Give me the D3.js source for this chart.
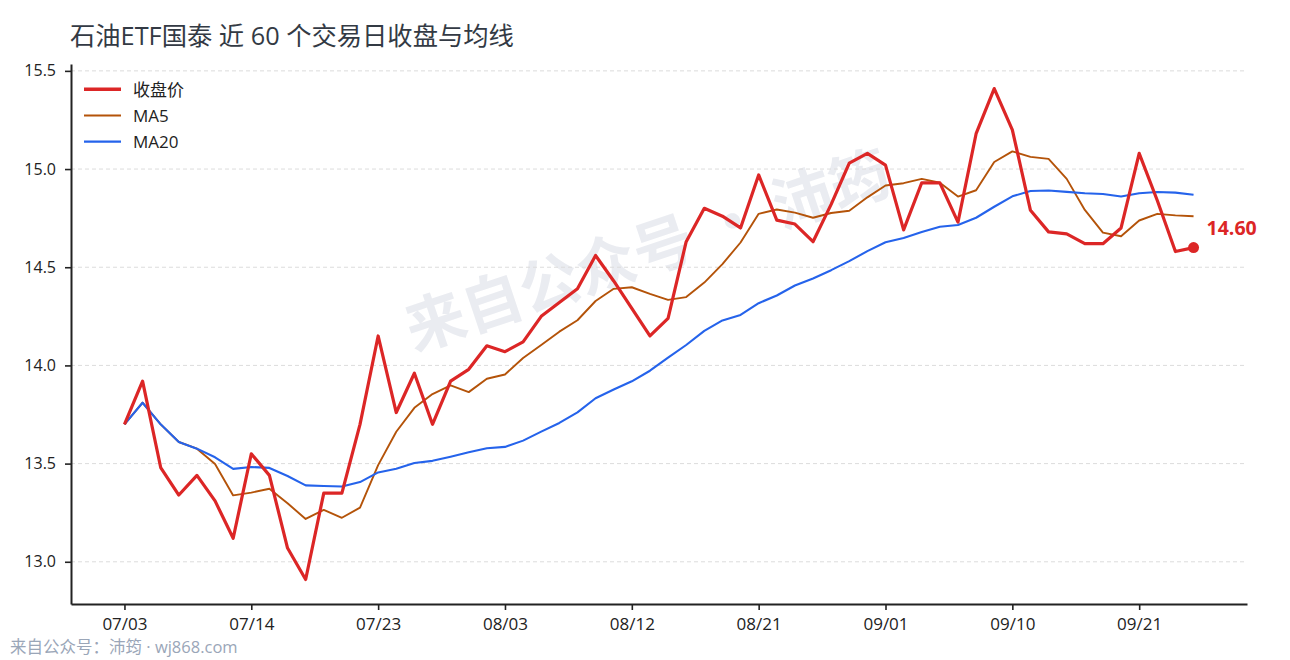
<!DOCTYPE html>
<html><head><meta charset="utf-8">
<script src="https://cdn.jsdelivr.net/npm/d3@7"></script>
<style>
html,body{margin:0;padding:0;background:#fff;}
svg{display:block;font-family:"Open Sans","Noto Sans CJK SC",sans-serif;}
</style></head><body>
<svg id="chart" width="1290" height="660"></svg>
<script>
const dates = ["07/03","07/04","07/07","07/08","07/09","07/10","07/11","07/14","07/15","07/16",
  "07/17","07/18","07/21","07/22","07/23","07/24","07/25","07/28","07/29","07/30",
  "07/31","08/03","08/04","08/05","08/06","08/07","08/08","08/11","08/12","08/13",
  "08/14","08/15","08/18","08/19","08/20","08/21","08/22","08/25","08/26","08/27",
  "08/28","08/29","09/01","09/02","09/03","09/04","09/05","09/08","09/09","09/10",
  "09/11","09/12","09/15","09/16","09/17","09/18","09/21","09/22","09/23","09/24"];
const close = [13.70,13.92,13.48,13.34,13.44,13.31,13.12,13.55,13.44,13.07,
  12.91,13.35,13.35,13.70,14.15,13.76,13.96,13.70,13.92,13.98,
  14.10,14.07,14.12,14.25,14.32,14.39,14.56,14.43,14.29,14.15,
  14.24,14.63,14.80,14.76,14.70,14.97,14.74,14.72,14.63,14.82,
  15.03,15.08,15.02,14.69,14.93,14.93,14.73,15.18,15.41,15.20,
  14.79,14.68,14.67,14.62,14.62,14.70,15.08,14.84,14.58,14.60];
const ma5 = [13.70,13.81,13.70,13.61,13.576,13.498,13.338,13.352,13.372,13.298,
  13.218,13.264,13.224,13.276,13.492,13.662,13.784,13.854,13.898,13.864,
  13.932,13.954,14.038,14.104,14.172,14.23,14.328,14.39,14.398,14.364,
  14.334,14.348,14.422,14.516,14.626,14.772,14.794,14.778,14.752,14.776,
  14.788,14.856,14.916,14.928,14.95,14.93,14.86,14.892,15.036,15.09,
  15.062,15.052,14.95,14.792,14.676,14.658,14.738,14.772,14.764,14.76];
const ma20 = [13.70,13.81,13.70,13.61,13.576,13.532,13.473,13.483,13.478,13.437,
  13.389,13.386,13.383,13.406,13.455,13.474,13.503,13.514,13.535,13.558,
  13.578,13.585,13.617,13.663,13.707,13.761,13.833,13.877,13.919,13.973,
  14.040,14.104,14.176,14.229,14.257,14.317,14.356,14.407,14.443,14.485,
  14.531,14.582,14.627,14.649,14.679,14.706,14.715,14.752,14.808,14.861,
  14.888,14.891,14.884,14.877,14.873,14.860,14.877,14.883,14.880,14.869];
const yTicks = [13.0,13.5,14.0,14.5,15.0,15.5];
const xTickIndex = [0,7,14,21,28,35,42,49,56];
const seriesNames = ["收盘价","MA5","MA20"];
const titleText = "石油ETF国泰 近 60 个交易日收盘与均线";
const watermarkText = "来自公众号 · 沛筠";
const footerText = "来自公众号：沛筠 · wj868.com";

const W = 1290, H = 660;
const M = {left:71, right:43, top:64, bottom:56};
const C = {close:"#dc2626", ma5:"#b45309", ma20:"#2563eb", axis:"#222", grid:"#dcdcdc"};
const FONT = '"Open Sans","Noto Sans CJK SC",sans-serif';
const svg = d3.select("#chart");
svg.append("rect").attr("width",W).attr("height",H).attr("fill","#fff");

const n = close.length;
const x = d3.scaleLinear().domain([-(n-1)*0.05, (n-1)*1.05]).range([M.left, W-M.right]);
const yMin = d3.min(close), yMax = d3.max(close), pad = (yMax-yMin)*0.05;
const y = d3.scaleLinear().domain([yMin-pad, yMax+pad]).range([H-M.bottom, M.top]);

// watermark
svg.append("text")
  .attr("transform","translate(646,246) rotate(-18.5)")
  .attr("text-anchor","middle").attr("dominant-baseline","central")
  .attr("font-family",'"Noto Sans CJK SC",sans-serif')
  .attr("font-size",60).attr("font-weight",700).attr("fill","#eaecf1")
  .text(watermarkText);

// grid
svg.append("g").selectAll("line").data(yTicks).join("line")
  .attr("x1",M.left).attr("x2",W-M.right)
  .attr("y1",d=>y(d)).attr("y2",d=>y(d))
  .attr("stroke",C.grid).attr("stroke-width",1).attr("stroke-dasharray","4,3");

// axes
const yAxis = svg.append("g").attr("transform",`translate(${M.left},0)`)
  .call(d3.axisLeft(y).tickValues(yTicks).tickFormat(d3.format(".1f")).tickSize(6).tickSizeOuter(0).tickPadding(9));
const xAxis = svg.append("g").attr("transform",`translate(0,${H-M.bottom})`)
  .call(d3.axisBottom(x).tickValues(xTickIndex).tickFormat(i=>dates[i]).tickSize(6).tickSizeOuter(0).tickPadding(8));
[yAxis,xAxis].forEach(a=>{
  a.select(".domain").attr("stroke",C.axis).attr("stroke-width",2);
  a.selectAll(".tick line").attr("stroke",C.axis).attr("stroke-width",1.6);
  a.selectAll(".tick text").attr("fill","#222").attr("font-family",FONT);
});
yAxis.selectAll(".tick text").attr("font-size",16);
xAxis.selectAll(".tick text").attr("font-size",17);

// lines
const line = d3.line().x((d,i)=>x(i)).y(d=>y(d));
svg.append("path").datum(ma5).attr("d",line).attr("fill","none")
  .attr("stroke",C.ma5).attr("stroke-width",1.9).attr("stroke-linejoin","round");
svg.append("path").datum(ma20).attr("d",line).attr("fill","none")
  .attr("stroke",C.ma20).attr("stroke-width",2.1).attr("stroke-linejoin","round");
svg.append("path").datum(close).attr("d",line).attr("fill","none")
  .attr("stroke",C.close).attr("stroke-width",3.2).attr("stroke-linejoin","round");

// end marker
const li = n-1;
svg.append("circle").attr("cx",x(li)).attr("cy",y(close[li])).attr("r",5.5).attr("fill",C.close);
svg.append("text").attr("x",x(li)+13).attr("y",y(close[li])-13)
  .attr("font-size",19.5).attr("font-weight",700).attr("fill",C.close)
  .text(d3.format(".2f")(close[li]));

// legend
const leg = svg.append("g").attr("transform","translate(84,89.3)");
const legStyle = [{c:C.close,w:3.4},{c:C.ma5,w:2},{c:C.ma20,w:2.2}];
seriesNames.forEach((s,k)=>{
  const g = leg.append("g").attr("transform",`translate(0,${k*26.2})`);
  g.append("line").attr("x1",0).attr("x2",37).attr("y1",0).attr("y2",0)
    .attr("stroke",legStyle[k].c).attr("stroke-width",legStyle[k].w);
  g.append("text").attr("x",49).attr("y",0).attr("dominant-baseline","central")
    .attr("font-size",17).attr("fill","#222").text(s);
});

// title
svg.append("text").attr("x",70).attr("y",45).attr("font-size",25.3).attr("fill","#333a44").text(titleText);
// footer
svg.append("text").attr("x",10).attr("y",653).attr("font-size",16.5).attr("fill","#9aa6b8").text(footerText);
</script>
</body></html>
